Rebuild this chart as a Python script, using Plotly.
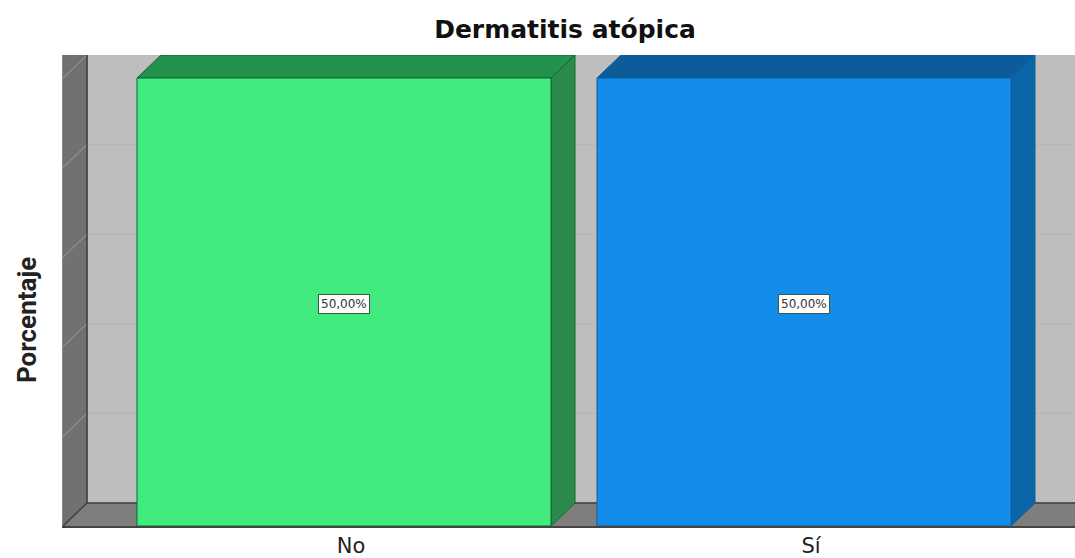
import plotly.graph_objects as go

categories = ["No", "Sí"]
percentages = [50.0, 50.0]
bar_colors = ["#42EB7E", "#138DE9"]
top_colors = ["#25914F", "#0D5C99"]
side_colors = ["#2B8A4C", "#0A66A8"]
edge_colors = ["#0E6B2E", "#0B5F9E"]
y_grid = [10, 20, 30, 40]

# frame geometry (axis units)
BAR_WIDTH = 0.9
DX = 24 / 460          # depth along x
DY = 23 / (448 / 50)   # depth along y
X_MIN = (63 - 344) / 460
X_MAX = (1075 - 344) / 460
Y_MAX = 50 * 471 / 448


def poly(points, fill, line=None, width=1):
    path = "M " + " L ".join(f"{x:.5f} {y:.5f}" for x, y in points) + " Z"
    return dict(type="path", path=path, xref="x", yref="y", layer="below",
                fillcolor=fill, line=dict(color=line or fill, width=width))


def seg(p, q, color, width=1):
    return dict(type="line", x0=p[0], y0=p[1], x1=q[0], y1=q[1], xref="x", yref="y",
                layer="below", line=dict(color=color, width=width))


WALL = "#BEBEBE"
LEFT = "#717171"
FLOOR = "#7E7E7E"
DARK = "#3F3F3F"

shapes = [
    poly([(X_MIN + DX, DY), (X_MAX, DY), (X_MAX, Y_MAX), (X_MIN + DX, Y_MAX)], WALL),
    poly([(X_MIN, 0), (X_MIN + DX, DY), (X_MIN + DX, Y_MAX), (X_MIN, Y_MAX)], LEFT),
    poly([(X_MIN, 0), (X_MIN + DX, DY), (X_MAX, DY), (X_MAX, 0)], FLOOR),
]
for g in y_grid:
    shapes.append(seg((X_MIN + DX, g + DY), (X_MAX, g + DY), "#B6B6B6"))
    shapes.append(seg((X_MIN, g), (X_MIN + DX, g + DY), "#9E9E9E"))
shapes.append(seg((X_MIN, 50), (X_MIN + DX, 50 + DY), "#9E9E9E"))
shapes += [
    seg((X_MIN + DX, DY), (X_MIN + DX, Y_MAX), DARK, 1.5),
    seg((X_MIN + DX, DY), (X_MAX, DY), DARK, 1.5),
    seg((X_MIN, 0), (X_MIN + DX, DY), DARK, 1.5),
]
for i, v in enumerate(percentages):
    l, r = i - BAR_WIDTH / 2, i + BAR_WIDTH / 2
    shapes.append(poly([(l, v), (l + DX, v + DY), (r + DX, v + DY), (r, v)], top_colors[i], edge_colors[i]))
    shapes.append(poly([(r, 0), (r + DX, DY), (r + DX, v + DY), (r, v)], side_colors[i], edge_colors[i]))

annotations = [
    dict(x=i, y=v / 2, xref="x", yref="y", text=f"{v:.2f}".replace(".", ",") + "%", showarrow=False,
         yshift=-2, font=dict(family="DejaVu Sans", size=12, color="#333333"), bgcolor="#FFFFFF",
         bordercolor="#3A5A48", borderwidth=1, borderpad=2)
    for i, v in enumerate(percentages)
]
annotations.append(dict(
    text="<b>Porcentaje</b>", textangle=-90, showarrow=False, xref="paper", yref="paper",
    x=(27 - 63) / 1012, y=(526 - 320) / 471, xanchor="center", yanchor="middle",
    font=dict(family="Roboto", size=26, color="#222222"),
))

fig = go.Figure(go.Bar(
    x=list(range(len(categories))), y=percentages, width=BAR_WIDTH,
    marker=dict(color=bar_colors, line=dict(color=edge_colors, width=1)),
    hoverinfo="skip",
))
fig.update_layout(
    width=1075, height=558, autosize=False,
    margin=dict(l=63, r=0, t=55, b=32, autoexpand=False),
    paper_bgcolor="#FFFFFF", plot_bgcolor="#FFFFFF",
    showlegend=False, shapes=shapes, annotations=annotations,
    title=dict(text="<b>Dermatitis atópica</b>", x=565 / 1075, xanchor="center",
               y=1 - 29 / 558, yanchor="middle",
               font=dict(family="DejaVu Sans", size=25, color="#111111")),
    xaxis=dict(range=[X_MIN, X_MAX], tickmode="array", tickvals=list(range(len(categories))), ticktext=categories,
               showgrid=False, zeroline=False, showline=True, linecolor="#444444", linewidth=1.5, ticks="",
               ticklabelshift=7, ticklabelstandoff=0, automargin=False,
               tickfont=dict(family="DejaVu Sans", size=21, color="#222222")),
    yaxis=dict(range=[0, Y_MAX], showticklabels=False, showgrid=False, zeroline=False, ticks="",
               showline=True, linecolor="#8A8A8A", linewidth=1, automargin=False),
)
fig.write_html("out.html", config=dict(displayModeBar=False),
               post_script="document.body.style.margin='0';document.body.style.overflow='hidden';")
